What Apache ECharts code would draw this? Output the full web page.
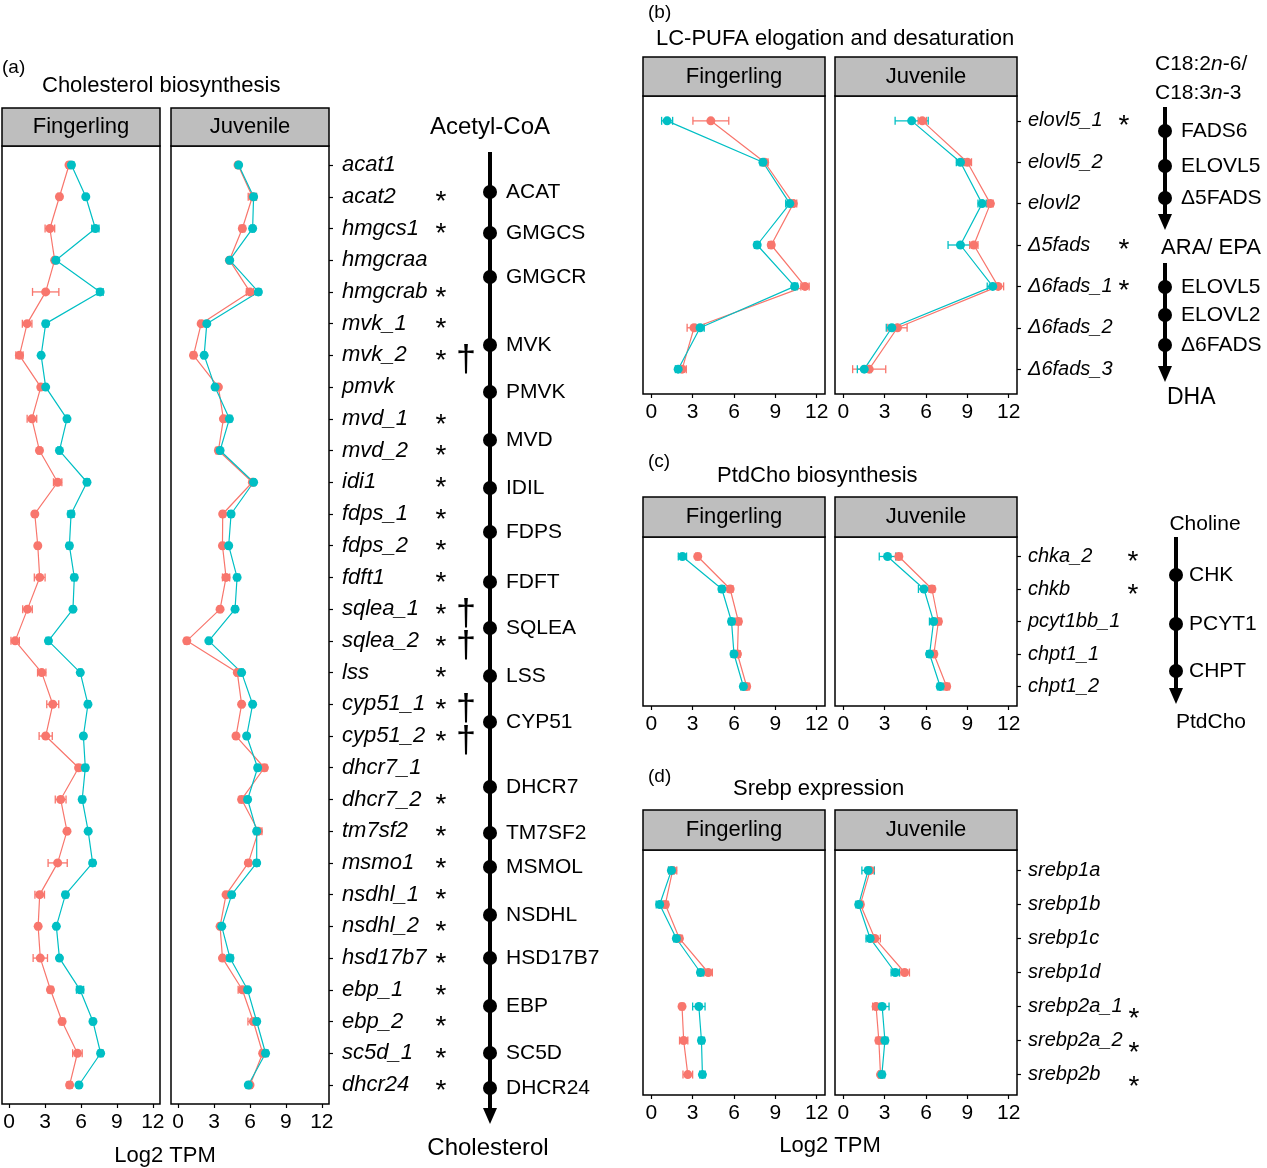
<!DOCTYPE html>
<html>
<head>
<meta charset="UTF-8">
<title>Lipid gene expression</title>
<script src="https://cdn.jsdelivr.net/npm/echarts@6/dist/echarts.min.js"></script>
<style>html,body{margin:0;padding:0;background:#fff;}</style>
</head>
<body>
<div id="main" style="width:1267px;height:1168px;"></div>
<script>
// ---- data (log2 TPM, mean and SE) ----
const genesA = ['acat1','acat2','hmgcs1','hmgcraa','hmgcrab','mvk_1','mvk_2','pmvk','mvd_1','mvd_2',
  'idi1','fdps_1','fdps_2','fdft1','sqlea_1','sqlea_2','lss','cyp51_1','cyp51_2','dhcr7_1',
  'dhcr7_2','tm7sf2','msmo1','nsdhl_1','nsdhl_2','hsd17b7','ebp_1','ebp_2','sc5d_1','dhcr24'];
const aFingRed    = [5.0,4.2,3.4,3.8,3.05,1.5,0.86,2.64,1.9,2.53,4.05,2.14,2.39,2.55,1.53,0.5,2.72,3.64,3.05,5.8,4.3,4.83,4.05,2.55,2.42,2.6,3.45,4.42,5.7,5.05];
const aFingRedSe  = [0.15,0.15,0.4,0.15,1.1,0.4,0.3,0.2,0.4,0.15,0.35,0.15,0.15,0.45,0.4,0.35,0.35,0.5,0.55,0.2,0.45,0.15,0.8,0.4,0.15,0.6,0.2,0.2,0.4,0.2];
const aFingCyan   = [5.2,6.4,7.2,3.9,7.6,3.05,2.67,3.05,4.83,4.2,6.5,5.17,5.03,5.44,5.33,3.28,5.94,6.58,6.2,6.36,6.1,6.6,6.97,4.7,3.94,4.2,5.92,7.0,7.64,5.83];
const aFingCyanSe = [0.2,0.15,0.3,0.15,0.25,0.2,0.15,0.15,0.2,0.15,0.2,0.25,0.2,0.2,0.15,0.2,0.15,0.2,0.15,0.2,0.2,0.15,0.2,0.2,0.15,0.15,0.3,0.15,0.2,0.15];
const aJuvRed     = [5.0,6.2,5.36,4.28,6.0,1.92,1.28,3.36,3.78,3.36,6.2,3.72,3.7,4.0,3.5,0.72,4.94,5.3,4.83,7.2,5.3,6.7,5.86,4.0,3.5,3.7,5.36,6.28,7.06,6.0];
const aJuvRedSe   = [0.15,0.35,0.2,0.15,0.3,0.15,0.2,0.15,0.15,0.2,0.15,0.15,0.15,0.3,0.15,0.2,0.15,0.15,0.15,0.2,0.2,0.3,0.2,0.15,0.15,0.15,0.35,0.45,0.2,0.15];
const aJuvCyan    = [5.05,6.3,6.22,4.3,6.7,2.39,2.17,3.08,4.28,3.5,6.3,4.42,4.22,4.92,4.75,2.56,5.3,6.22,5.72,6.64,5.8,6.56,6.56,4.47,3.64,4.33,5.8,6.56,7.3,5.86];
const aJuvCyanSe  = [0.15,0.2,0.15,0.15,0.2,0.15,0.15,0.15,0.2,0.15,0.15,0.2,0.15,0.2,0.2,0.15,0.15,0.15,0.15,0.2,0.15,0.2,0.2,0.2,0.15,0.25,0.15,0.15,0.2,0.15];
const starsA   = ['acat2','hmgcs1','hmgcrab','mvk_1','mvk_2','mvd_1','mvd_2','idi1','fdps_1','fdps_2','fdft1',
  'sqlea_1','sqlea_2','lss','cyp51_1','cyp51_2','dhcr7_2','tm7sf2','msmo1','nsdhl_1','nsdhl_2',
  'hsd17b7','ebp_1','ebp_2','sc5d_1','dhcr24'];
const daggersA = ['mvk_2','sqlea_1','sqlea_2','cyp51_1','cyp51_2'];
const enzymesA = ['ACAT','GMGCS','GMGCR','MVK','PMVK','MVD','IDIL','FDPS','FDFT','SQLEA',
  'LSS','CYP51','DHCR7','TM7SF2','MSMOL','NSDHL','HSD17B7','EBP','SC5D','DHCR24'];

const genesB = ['elovl5_1','elovl5_2','elovl2','Δ5fads','Δ6fads_1','Δ6fads_2','Δ6fads_3'];
const bFingRed    = [4.32,8.22,10.3,8.7,11.15,3.1,2.24];
const bFingRedSe  = [1.3,0.25,0.25,0.2,0.3,0.5,0.3];
const bFingCyan   = [1.15,8.1,10.05,7.68,10.4,3.54,1.95];
const bFingCyanSe = [0.4,0.2,0.3,0.2,0.2,0.3,0.2];
const bJuvRed     = [5.73,9.0,10.67,9.47,11.23,3.93,1.88];
const bJuvRedSe   = [0.3,0.3,0.2,0.3,0.4,0.7,1.2];
const bJuvCyan    = [4.96,8.5,10.07,8.5,10.84,3.52,1.52];
const bJuvCyanSe  = [1.2,0.3,0.3,0.9,0.4,0.4,0.5];
const starsB = ['elovl5_1','Δ5fads','Δ6fads_1'];

const genesC = ['chka_2','chkb','pcyt1bb_1','chpt1_1','chpt1_2'];
const cFingRed    = [3.37,5.72,6.32,6.25,6.92];
const cFingRedSe  = [0.15,0.2,0.2,0.2,0.2];
const cFingCyan   = [2.26,5.12,5.82,6.0,6.68];
const cFingCyanSe = [0.3,0.2,0.2,0.2,0.2];
const cJuvRed     = [4.03,6.43,6.9,6.57,7.5];
const cJuvRedSe   = [0.2,0.2,0.2,0.2,0.2];
const cJuvCyan    = [3.21,5.85,6.55,6.26,7.03];
const cJuvCyanSe  = [0.6,0.4,0.3,0.2,0.2];
const starsC = ['chka_2','chkb'];

const genesD = ['srebp1a','srebp1b','srebp1c','srebp1d','srebp2a_1','srebp2a_2','srebp2b'];
const dFingRed    = [1.55,1.02,2.04,4.13,2.23,2.35,2.65];
const dFingRedSe  = [0.3,0.2,0.2,0.3,0.15,0.3,0.35];
const dFingCyan   = [1.46,0.61,1.82,3.57,3.45,3.64,3.71];
const dFingCyanSe = [0.2,0.25,0.2,0.2,0.45,0.2,0.2];
const dJuvRed     = [1.95,1.24,2.29,4.45,2.38,2.58,2.7];
const dJuvRedSe   = [0.3,0.2,0.4,0.35,0.25,0.2,0.15];
const dJuvCyan    = [1.8,1.12,1.95,3.77,2.82,3.02,2.8];
const dJuvCyanSe  = [0.45,0.2,0.3,0.3,0.5,0.2,0.2];
const starsD = ['srebp2a_1','srebp2a_2','srebp2b'];
const dPaths = [[0, 4], [4, 7]];   // srebp1 and srebp2 are drawn as two separate paths

const xTicks = [0, 3, 6, 9, 12];
const facets = ['Fingerling', 'Juvenile'];

// ---- styling ----
const RED = '#F8766D', CYAN = '#00BFC4';
const FONT = '"Liberation Sans", Arial, Helvetica, sans-serif';

const panels = [
  { genes: genesA, stars: starsA, daggers: daggersA, starX: 441, starDy: 6, labelSize: 22, labelMargin: 13,
    fing: [aFingRed, aFingRedSe, aFingCyan, aFingCyanSe], juv: [aJuvRed, aJuvRedSe, aJuvCyan, aJuvCyanSe],
    left: [2, 171], width: 158, top: 146, height: 958, stripH: 38, paths: null },
  { genes: genesB, stars: starsB, daggers: [], starX: 1124, starDy: 5, labelSize: 20, labelMargin: 11,
    fing: [bFingRed, bFingRedSe, bFingCyan, bFingCyanSe], juv: [bJuvRed, bJuvRedSe, bJuvCyan, bJuvCyanSe],
    left: [643, 835], width: 182, top: 96, height: 298, stripH: 39, paths: null },
  { genes: genesC, stars: starsC, daggers: [], starX: 1133, starDy: 6, labelSize: 20, labelMargin: 11,
    fing: [cFingRed, cFingRedSe, cFingCyan, cFingCyanSe], juv: [cJuvRed, cJuvRedSe, cJuvCyan, cJuvCyanSe],
    left: [643, 835], width: 182, top: 537, height: 169, stripH: 40, paths: null },
  { genes: genesD, stars: starsD, daggers: [], starX: 1134, starDy: 13, labelSize: 20, labelMargin: 11,
    fing: [dFingRed, dFingRedSe, dFingCyan, dFingCyanSe], juv: [dJuvRed, dJuvRedSe, dJuvCyan, dJuvCyanSe],
    left: [643, 835], width: 182, top: 850, height: 245, stripH: 40, paths: dPaths }
];

function renderErr(params, api) {
  const x = api.value(0), y = api.value(1), e = api.value(2);
  const p1 = api.coord([x - e, y]);
  const p2 = api.coord([x + e, y]);
  const c = api.visual('color');
  const h = 4;
  const st = { stroke: c, lineWidth: 1.3 };
  return {
    type: 'group',
    children: [
      { type: 'line', shape: { x1: p1[0], y1: p1[1], x2: p2[0], y2: p2[1] }, style: st },
      { type: 'line', shape: { x1: p1[0], y1: p1[1] - h, x2: p1[0], y2: p1[1] + h }, style: st },
      { type: 'line', shape: { x1: p2[0], y1: p2[1] - h, x2: p2[0], y2: p2[1] + h }, style: st }
    ]
  };
}

const grids = [], xAxes = [], yAxes = [], series = [];

panels.forEach((p, k) => {
  const n = p.genes.length;
  const idx = p.genes.map((g, i) => i);
  [p.fing, p.juv].forEach((vals, f) => {
    const gi = grids.length;
    grids.push({ left: p.left[f], top: p.top, width: p.width, height: p.height,
      show: true, borderColor: '#000', borderWidth: 1.5, backgroundColor: '#fff' });
    xAxes.push({ type: 'value', gridIndex: gi, min: -0.6, max: 12.6, position: 'bottom',
      axisLine: { show: false, onZero: false }, splitLine: { show: false },
      axisTick: { show: true, length: 4, customValues: xTicks, lineStyle: { color: '#000', width: 1.2 } },
      axisLabel: { customValues: xTicks, margin: 8, color: '#000', fontSize: 21, fontFamily: FONT } });
    const yAx = { type: 'value', gridIndex: gi, min: -0.6, max: n - 0.4, inverse: true,
      splitLine: { show: false }, axisLine: { show: false, onZero: false } };
    if (f === 1) {
      Object.assign(yAx, { position: 'right',
        axisTick: { show: true, length: 4, customValues: idx, lineStyle: { color: '#000', width: 1.2 } },
        axisLabel: { customValues: idx, margin: p.labelMargin, color: '#000', fontSize: p.labelSize,
          fontStyle: 'italic', fontFamily: FONT, formatter: v => p.genes[Math.round(v)] } });
    } else {
      Object.assign(yAx, { axisTick: { show: false }, axisLabel: { show: false } });
    }
    yAxes.push(yAx);

    const groups = p.paths || [[0, n]];
    [[vals[0], vals[1], RED], [vals[2], vals[3], CYAN]].forEach(([m, se, col]) => {
      series.push({ type: 'custom', xAxisIndex: gi, yAxisIndex: gi, renderItem: renderErr,
        itemStyle: { color: col }, encode: { x: 0, y: 1 }, silent: true,
        data: m.map((v, i) => [v, i, se[i]]) });
      groups.forEach(([a, b]) => {
        series.push({ type: 'line', xAxisIndex: gi, yAxisIndex: gi, symbol: 'circle', symbolSize: 9,
          itemStyle: { color: col }, lineStyle: { color: col, width: 1.2 }, silent: true,
          data: m.slice(a, b).map((v, i) => [v, a + i]) });
      });
    });
  });
});

const chart = echarts.init(document.getElementById('main'));
chart.setOption({
  animation: false,
  backgroundColor: '#fff',
  grid: grids, xAxis: xAxes, yAxis: yAxes, series: series
});

// ---- annotations: strips, titles, pathways ----
const g = [];
function txt(x, y, s, size, opt) {
  g.push({ type: 'text', x: x, y: y, z: 10, style: Object.assign({ text: s, fill: '#000',
    font: size + 'px ' + FONT, textAlign: 'left', textVerticalAlign: 'middle' }, opt || {}) });
}
function dot(x, y) {
  g.push({ type: 'circle', z: 10, shape: { cx: x, cy: y, r: 7 }, style: { fill: '#000' } });
}
function arrow(x, y1, y2) {
  g.push({ type: 'line', z: 10, shape: { x1: x, y1: y1, x2: x, y2: y2 }, style: { stroke: '#000', lineWidth: 4 } });
  g.push({ type: 'polygon', z: 10, shape: { points: [[x - 7, y2], [x + 7, y2], [x, y2 + 16]] }, style: { fill: '#000' } });
}

panels.forEach((p, k) => {
  facets.forEach((name, f) => {
    g.push({ type: 'rect', z: 5, shape: { x: p.left[f], y: p.top - p.stripH, width: p.width, height: p.stripH },
      style: { fill: '#BEBEBE', stroke: '#000', lineWidth: 1.5 } });
    txt(p.left[f] + p.width / 2, p.top - p.stripH / 2, name, 22, { textAlign: 'center' });
  });
  const gi = 2 * k + 1;
  p.genes.forEach((name, i) => {
    const y = chart.convertToPixel({ gridIndex: gi }, [0, i])[1];
    if (p.stars.includes(name)) txt(p.starX, y + p.starDy, '*', 28, { textAlign: 'center' });
    if (p.daggers.includes(name)) txt(466, y + 6, '†', 36, { textAlign: 'center' });
  });
});

txt(2, 68, '(a)', 19);
txt(42, 86, 'Cholesterol biosynthesis', 22);
txt(648, 13, '(b)', 19);
txt(656, 39, 'LC-PUFA elogation and desaturation', 22);
txt(648, 462, '(c)', 19);
txt(717, 476, 'PtdCho biosynthesis', 22);
txt(648, 777, '(d)', 19);
txt(733, 789, 'Srebp expression', 22);
txt(165, 1156, 'Log2 TPM', 22, { textAlign: 'center' });
txt(830, 1146, 'Log2 TPM', 22, { textAlign: 'center' });

// cholesterol pathway
const enzYA = [192,233,277,345,392,440,488,532,582,628,676,722,787,833,867,915,958,1006,1053,1088];
arrow(490, 152, 1108);
txt(490, 127, 'Acetyl-CoA', 24, { textAlign: 'center' });
txt(488, 1148, 'Cholesterol', 24, { textAlign: 'center' });
enzymesA.forEach((e, i) => { dot(490, enzYA[i]); txt(506, enzYA[i], e, 21); });

// LC-PUFA pathway
g.push({ type: 'text', x: 1155, y: 64, z: 10, style: { text: '{a|C18:2}{i|n}{a|-6/}', textVerticalAlign: 'middle',
  rich: { a: { fontSize: 21, fontFamily: FONT }, i: { fontSize: 21, fontFamily: FONT, fontStyle: 'italic' } } } });
g.push({ type: 'text', x: 1155, y: 93, z: 10, style: { text: '{a|C18:3}{i|n}{a|-3}', textVerticalAlign: 'middle',
  rich: { a: { fontSize: 21, fontFamily: FONT }, i: { fontSize: 21, fontFamily: FONT, fontStyle: 'italic' } } } });
arrow(1165, 107, 214);
[['FADS6', 131], ['ELOVL5', 166], ['Δ5FADS', 198]].forEach(([e, y]) => { dot(1165, y); txt(1181, y, e, 21); });
txt(1211, 248, 'ARA/ EPA', 22, { textAlign: 'center' });
arrow(1165, 263, 366);
[['ELOVL5', 287], ['ELOVL2', 315], ['Δ6FADS', 345]].forEach(([e, y]) => { dot(1165, y); txt(1181, y, e, 21); });
txt(1167, 398, 'DHA', 23);

// PtdCho pathway
txt(1205, 524, 'Choline', 21, { textAlign: 'center' });
arrow(1176, 537, 688);
[['CHK', 575], ['PCYT1', 624], ['CHPT', 671]].forEach(([e, y]) => { dot(1176, y); txt(1189, y, e, 21); });
txt(1211, 722, 'PtdCho', 21, { textAlign: 'center' });

chart.setOption({ graphic: g });
</script>
</body>
</html>
